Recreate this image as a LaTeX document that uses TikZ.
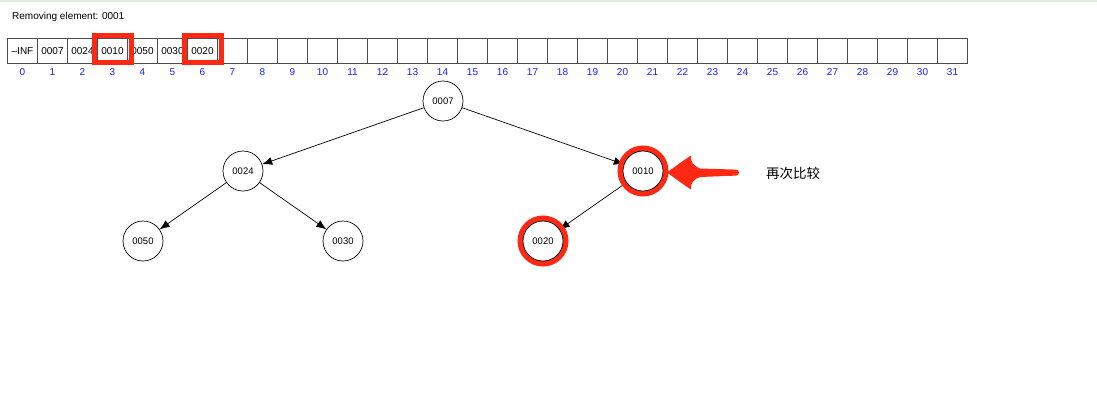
\documentclass[tikz,border=0pt]{standalone}
\usepackage{fontspec}
\setmainfont{Liberation Sans}
\newfontfamily\cjk{Noto Sans CJK SC}
\usetikzlibrary{arrows.meta}
\definecolor{hl}{RGB}{255,40,18}
\definecolor{idx}{RGB}{30,30,255}
\definecolor{topline}{RGB}{218,236,218}
\tikzset{
  cell/.style={draw=black!70,line width=0.6pt,minimum width=30pt,minimum height=25pt,inner sep=0pt,font=\fontsize{10}{12}\selectfont},
  idxlab/.style={text=idx,font=\fontsize{10}{12}\selectfont,inner sep=0pt},
  tnode/.style={draw=black,circle,line width=0.7pt,minimum size=40pt,inner sep=0pt,fill=white,font=\fontsize{9.5}{11}\selectfont},
  edge/.style={draw=black,line width=0.7pt,-{Latex[length=10pt,width=8pt]}},
  hlbox/.style={draw=hl,line width=5pt},
  hlring/.style={draw=hl,line width=5.5pt},
}
\begin{document}
\begin{tikzpicture}[x=1pt,y=-1pt]
\useasboundingbox (0,0) rectangle (1097,400);
\fill[white] (0,0) rectangle (1097,400);
\draw[topline,line width=1.5pt] (0,0.75) -- (1097,0.75);
\node[anchor=west,inner sep=0pt,font=\fontsize{10}{12}\selectfont] (title) at (12,16.5) {Removing element: 0001};
% array
\foreach \i/\t in {0/{--INF},1/0007,2/0024,3/0010,4/0050,5/0030,6/0020,7/{},8/{},9/{},10/{},11/{},12/{},13/{},14/{},15/{},16/{},17/{},18/{},19/{},20/{},21/{},22/{},23/{},24/{},25/{},26/{},27/{},28/{},29/{},30/{},31/{}}{
  \node[cell] (c\i) at ({22.5+30*\i},50.75) {\t};
  \node[idxlab] (i\i) at ({22.5+30*\i},72) {\i};
}
\draw[hlbox] (94.5,35.5) rectangle (131.5,62.5);
\draw[hlbox] (184.5,35.5) rectangle (221.5,62.5);
% tree
\node[tnode] (n7) at (443,101) {0007};
\node[tnode] (n24) at (243,171) {0024};
\node[tnode] (n10) at (643,171) {0010};
\node[tnode] (n50) at (143,241) {0050};
\node[tnode] (n30) at (343,241) {0030};
\node[tnode] (n20) at (543,241) {0020};
\draw[edge] (n7) -- (n24);
\draw[edge] (n7) -- (n10);
\draw[edge] (n24) -- (n50);
\draw[edge] (n24) -- (n30);
\draw[edge] (n10) -- (n20);
\draw[hlring] (n10.center) circle (22.75);
\draw[hlring] (n20.center) circle (22.75);
\node[tnode] at (n10.center) {0010};
\node[tnode] at (n20.center) {0020};
% red arrow
\coordinate (atip) at (667,172.5);
\fill[hl] (atip) .. controls (676,166) and (684,160) .. (691,155.5)
  .. controls (690,162) and (694,166) .. (700,168.5)
  -- (736,169.6) arc (-90:90:3) -- (700,177)
  .. controls (694,179) and (690,183) .. (691,189.5)
  .. controls (684,185) and (676,179) .. (atip) -- cycle;
\node[inner sep=0pt,font=\cjk\fontsize{13.5}{16}\selectfont] (lab) at (793,173) {再次比较};
\end{tikzpicture}
\end{document}
